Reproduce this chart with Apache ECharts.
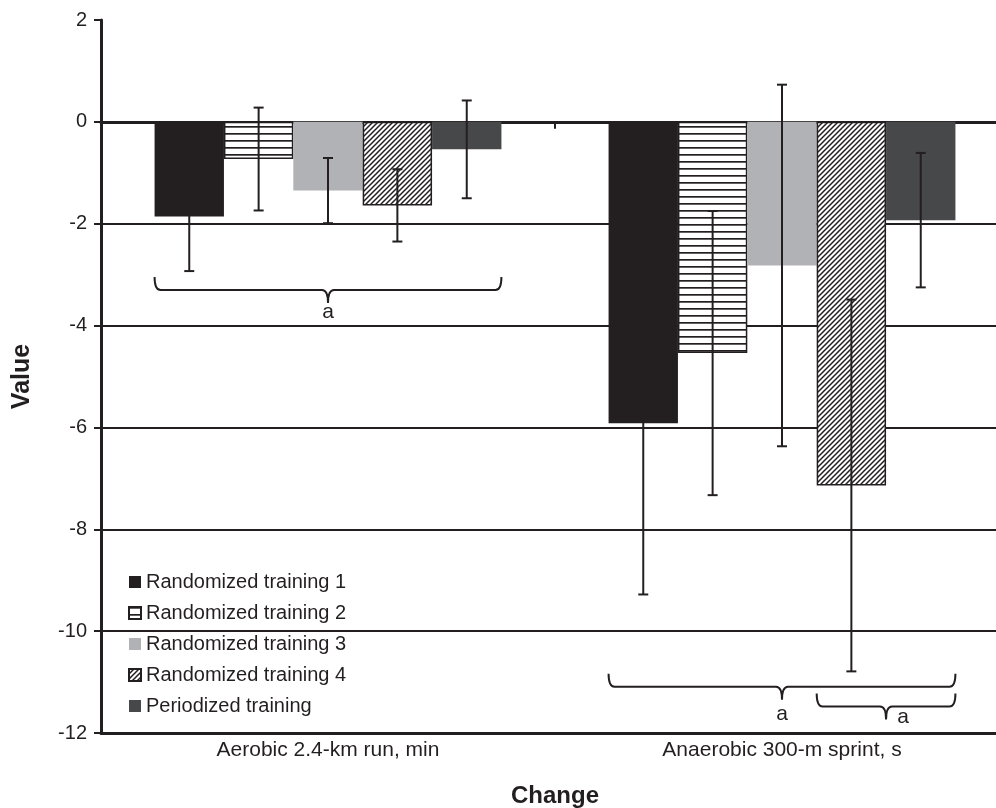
<!DOCTYPE html>
<html>
<head>
<meta charset="utf-8">
<script src="https://cdn.jsdelivr.net/npm/echarts@6/dist/echarts.min.js"></script>
<style>
  html, body { margin: 0; padding: 0; background: #fff; overflow: hidden; }
  #chart { width: 996px; height: 808px; }
</style>
</head>
<body>
<div id="chart"></div>
<script>
// categories and series
var categories = ['Aerobic 2.4-km run, min', 'Anaerobic 300-m sprint, s'];
var seriesNames = ['Randomized training 1', 'Randomized training 2', 'Randomized training 3', 'Randomized training 4', 'Periodized training'];
var rt1 = [-1.86, -5.92];
var rt2 = [-0.73, -4.54];
var rt3 = [-1.35, -2.82];
var rt4 = [-1.64, -7.14];
var per = [-0.54, -1.93];
// standard deviations (error bar half length)
var rt1Sd = [1.07, 3.36];
var rt2Sd = [1.01, 2.79];
var rt3Sd = [0.64, 3.55];
var rt4Sd = [0.71, 3.65];
var perSd = [0.96, 1.32];
// y ticks
var yMin = -12, yMax = 2, yStep = 2;
// significance braces: [category, first bar, last bar, value of brace line]
var braces = [[0, 0, 4, -3.30], [1, 0, 4, -11.09], [1, 3, 4, -11.48]];
var braceText = ['a', 'a', 'a'];
var braceLabelShift = [[0, 22], [0, 28], [17, 11]];

var INK = '#231f20';
var GAP = 0.236;
var FONT = '"Liberation Sans", Arial, sans-serif';

function stripes() {
  var c = document.createElement('canvas');
  c.width = 8; c.height = 7;
  var g = c.getContext('2d');
  g.fillStyle = '#fff'; g.fillRect(0, 0, 8, 7);
  g.fillStyle = INK; g.fillRect(0, 0, 8, 1.7);
  return c;
}
function hatch() {
  var c = document.createElement('canvas');
  c.width = 5; c.height = 5;
  var g = c.getContext('2d');
  g.fillStyle = '#fff'; g.fillRect(0, 0, 5, 5);
  g.strokeStyle = INK; g.lineWidth = 1.5;
  g.beginPath();
  g.moveTo(-1, 6); g.lineTo(6, -1);
  g.moveTo(-1, 1); g.lineTo(1, -1);
  g.moveTo(4, 6); g.lineTo(6, 4);
  g.stroke();
  return c;
}

var values = [rt1, rt2, rt3, rt4, per];
var sds = [rt1Sd, rt2Sd, rt3Sd, rt4Sd, perSd];
var fills = [
  { color: INK },
  { color: { image: stripes(), repeat: 'repeat' }, borderColor: INK, borderWidth: 1.5 },
  { color: '#b1b2b5' },
  { color: { image: hatch(), repeat: 'repeat' }, borderColor: INK, borderWidth: 1.5 },
  { color: '#474849' }
];

var errData = [];
for (var s = 0; s < 5; s++) {
  for (var c = 0; c < categories.length; c++) {
    errData.push([c, s, values[s][c] - sds[s][c], values[s][c] + sds[s][c]]);
  }
}

function barGeom(api, cat) {
  var center = api.coord([cat, 0])[0];
  var catW = api.size([1, 0])[0];
  var barW = catW * (1 - GAP) / 5;
  return { center: center, barW: barW };
}

var series = [];
for (var i = 0; i < 5; i++) {
  series.push({
    name: seriesNames[i],
    type: 'bar',
    data: values[i],
    barGap: '0%',
    barCategoryGap: (GAP * 100) + '%',
    itemStyle: fills[i],
    emphasis: { disabled: true }
  });
}

// error bars
series.push({
  type: 'custom',
  z: 5,
  data: errData,
  encode: { x: 0, y: [2, 3] },
  renderItem: function (params, api) {
    var cat = api.value(0), s = api.value(1);
    var g = barGeom(api, cat);
    var x = g.center + (s - 2) * g.barW;
    var lo = api.coord([cat, api.value(2)])[1];
    var hi = api.coord([cat, api.value(3)])[1];
    var st = { stroke: INK, lineWidth: 2 };
    return {
      type: 'group',
      children: [
        { type: 'line', shape: { x1: x, y1: lo, x2: x, y2: hi }, style: st },
        { type: 'line', shape: { x1: x - 5, y1: lo, x2: x + 5, y2: lo }, style: st },
        { type: 'line', shape: { x1: x - 5, y1: hi, x2: x + 5, y2: hi }, style: st }
      ]
    };
  }
});

// braces with "a"
series.push({
  type: 'custom',
  z: 5,
  data: braces,
  encode: { x: 0, y: 3 },
  renderItem: function (params, api) {
    var idx = params.dataIndex;
    var cat = api.value(0);
    var g = barGeom(api, cat);
    var x1 = g.center + (api.value(1) - 2.5) * g.barW;
    var x2 = g.center + (api.value(2) - 1.5) * g.barW;
    var y = api.coord([cat, api.value(3)])[1];
    var m = (x1 + x2) / 2;
    var path = 'M' + x1 + ',' + (y - 13) + ' Q' + x1 + ',' + y + ' ' + (x1 + 6) + ',' + y +
      ' L' + (m - 6) + ',' + y + ' Q' + m + ',' + y + ' ' + m + ',' + (y + 13) +
      ' Q' + m + ',' + y + ' ' + (m + 6) + ',' + y +
      ' L' + (x2 - 6) + ',' + y + ' Q' + x2 + ',' + y + ' ' + x2 + ',' + (y - 13);
    var sh = braceLabelShift[idx];
    return {
      type: 'group',
      children: [
        { type: 'path', shape: { pathData: path }, style: { fill: null, stroke: INK, lineWidth: 2 } },
        { type: 'text', x: m + sh[0], y: y + sh[1],
          style: { text: braceText[idx], fill: INK, font: '21px ' + FONT, align: 'center', verticalAlign: 'middle' } }
      ]
    };
  }
});

var chart = echarts.init(document.getElementById('chart'));
chart.setOption({
  animation: false,
  textStyle: { fontFamily: FONT, color: INK },
  grid: { left: 101, right: -13, top: 20, bottom: 75, containLabel: false, outerBoundsMode: 'none' },
  legend: {
    data: seriesNames,
    orient: 'vertical',
    left: 123,
    top: 567,
    itemWidth: 12,
    itemHeight: 12,
    itemGap: 11,
    icon: 'rect',
    selectedMode: false,
    textStyle: { fontSize: 20, color: INK, fontFamily: FONT }
  },
  xAxis: [
    {
      type: 'category',
      data: categories,
      position: 'bottom',
      name: 'Change',
      nameLocation: 'middle',
      nameGap: 51,
      nameTextStyle: { fontSize: 24, fontWeight: 'bold', color: INK },
      axisLine: { onZero: false, lineStyle: { color: INK, width: 3 } },
      axisTick: { show: false },
      axisLabel: { fontSize: 21, color: INK, margin: 7 },
      splitLine: { show: false }
    },
    {
      type: 'category',
      data: categories,
      position: 'top',
      axisLine: { onZero: true, lineStyle: { color: INK, width: 3 } },
      axisTick: { show: true, inside: true, length: 7, lineStyle: { color: INK, width: 2 } },
      axisLabel: { show: false },
      splitLine: { show: false }
    }
  ],
  yAxis: {
    type: 'value',
    min: yMin,
    max: yMax,
    interval: yStep,
    name: 'Value',
    nameLocation: 'middle',
    nameGap: 66,
    nameTextStyle: { fontSize: 25, fontWeight: 'bold', color: INK },
    axisLine: { show: true, lineStyle: { color: INK, width: 3 } },
    axisTick: { show: true, length: 7, lineStyle: { color: INK, width: 2 } },
    axisLabel: { fontSize: 20, color: INK, margin: 14 },
    splitLine: { show: true, showMinLine: false, showMaxLine: false, lineStyle: { color: INK, width: 2 } }
  },
  series: series
});
</script>
</body>
</html>
